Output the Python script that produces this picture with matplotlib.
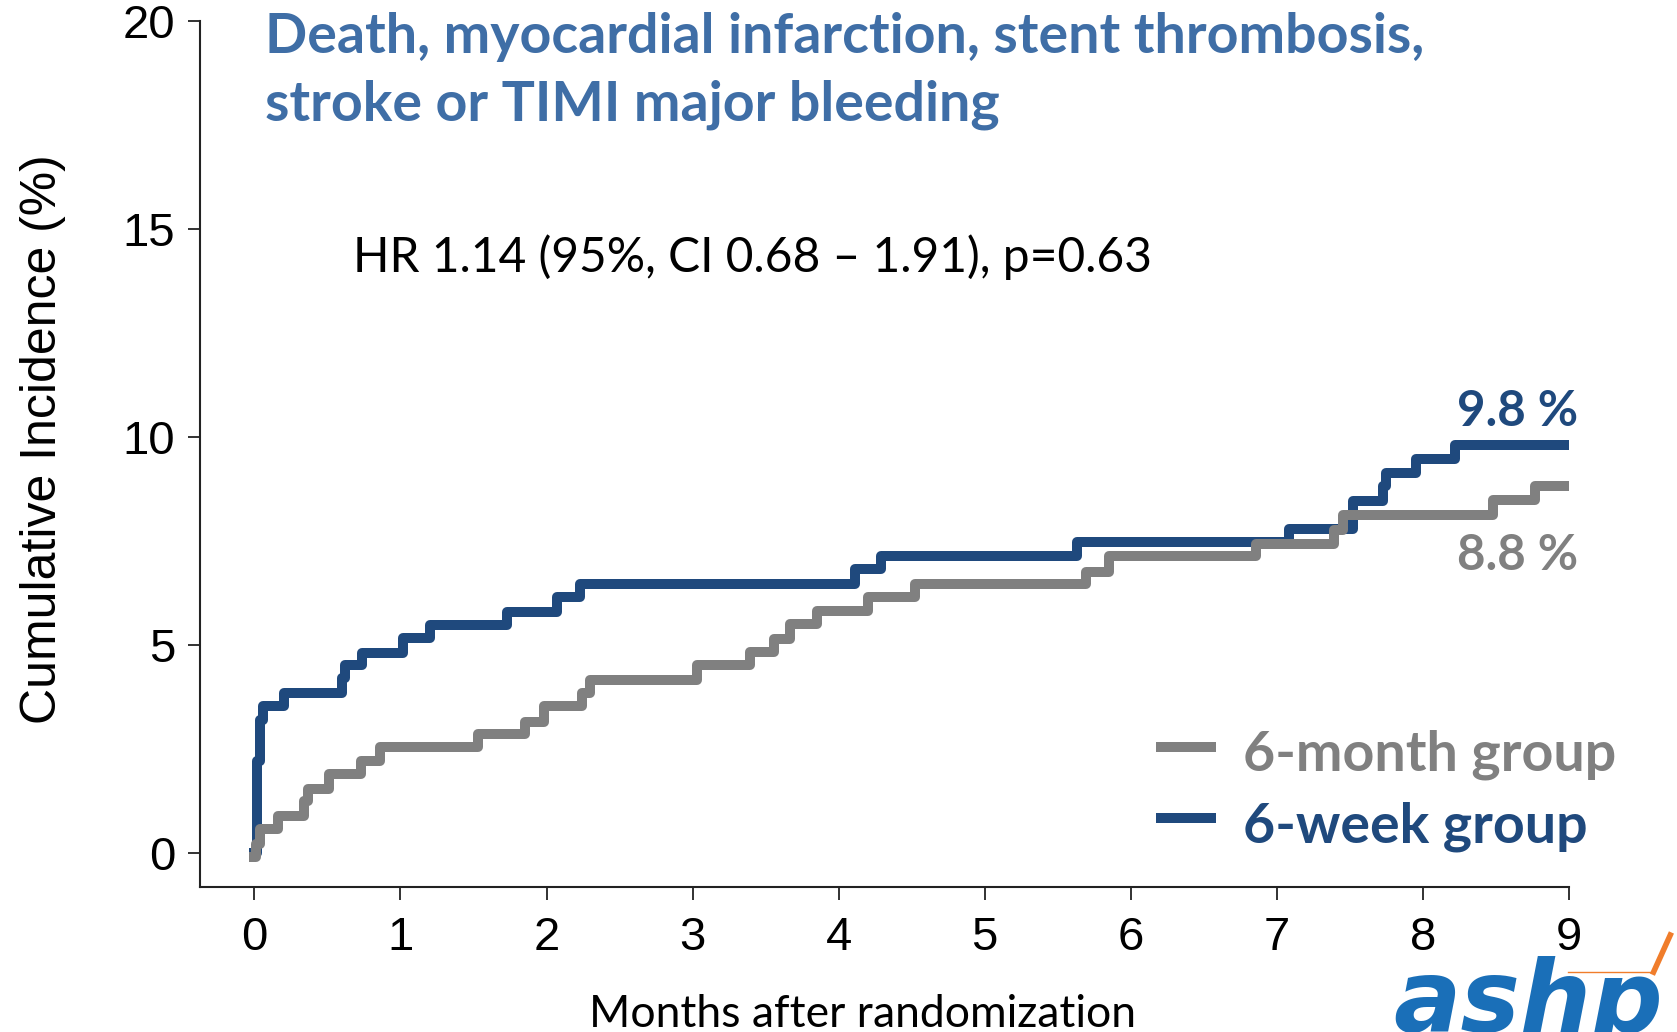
import matplotlib.pyplot as plt
from matplotlib import font_manager

# cumulative incidence (%), step after each time (months)
week_t = [0, 0.02, 0.04, 0.06, 0.20, 0.60, 0.62, 0.74, 1.02, 1.20, 1.73, 2.07, 2.23,
          4.11, 4.29, 5.63, 7.08, 7.52, 7.73, 7.75, 7.95, 8.22, 9.0]
week_y = [0, 2.2, 3.2, 3.52, 3.85, 4.19, 4.51, 4.81, 5.17, 5.48, 5.78, 6.16, 6.46,
          6.82, 7.13, 7.48, 7.79, 8.45, 8.82, 9.14, 9.48, 9.80, 9.80]

month_t = [0, 0.01, 0.04, 0.16, 0.34, 0.37, 0.51, 0.73, 0.86, 1.53, 1.85, 1.98, 2.24,
           2.30, 3.03, 3.39, 3.56, 3.67, 3.85, 4.20, 4.52, 5.69, 5.85, 6.86, 7.39,
           7.45, 8.48, 8.77, 9.0]
month_y = [-0.1, 0.21, 0.56, 0.89, 1.25, 1.53, 1.89, 2.21, 2.54, 2.86, 3.14, 3.52, 3.83,
           4.15, 4.51, 4.83, 5.13, 5.49, 5.80, 6.16, 6.46, 6.74, 7.13, 7.42, 7.77,
           8.11, 8.48, 8.82, 8.82]

x_ticks = list(range(0, 10))
y_ticks = [0, 5, 10, 15, 20]

navy = '#1F497D'
grey = '#808080'
title_blue = '#3F6EA6'

fig = plt.figure(figsize=(16.77, 10.32), dpi=100)
ax = fig.add_axes([0.1193, 0.1409, 0.8163, 0.8384])

ax.step(week_t, week_y, where='post', color=navy, lw=7.2, zorder=2)
ax.step(month_t, month_y, where='post', color=grey, lw=7.2, zorder=3)

ax.set_xlim(-0.372, 9)
ax.set_ylim(-0.82, 20)
ax.set_xticks(x_ticks)
ax.set_yticks(y_ticks)
for s in ['top', 'right']:
    ax.spines[s].set_visible(False)
for s in ['left', 'bottom']:
    ax.spines[s].set_linewidth(1.5)
    ax.spines[s].set_color('#222222')
ax.tick_params(length=9, width=1.3, color='#222222', labelsize=34)
ax.tick_params(axis='x', pad=12)
ax.tick_params(axis='y', pad=9)
for lab in ax.get_xticklabels() + ax.get_yticklabels():
    lab.set_family('Liberation Sans')

# y label in a narrow face if there is one
names = {f.name for f in font_manager.fontManager.ttflist}
if 'Liberation Sans Narrow' in names:
    ax.set_ylabel('Cumulative Incidence (%)', fontsize=44, family='Liberation Sans Narrow')
else:
    ax.set_ylabel('Cumulative Incidence (%)', fontsize=36, family='Liberation Sans')
ax.yaxis.set_label_coords(-0.098, 0.517)

ax.text(0.07, 19.23, 'Death, myocardial infarction, stent thrombosis,',
        fontsize=40, fontweight='bold', color=title_blue, family='Lato', va='baseline')
ax.text(0.07, 17.62, 'stroke or TIMI major bleeding',
        fontsize=40, fontweight='bold', color=title_blue, family='Lato', va='baseline')
ax.text(0.672, 13.98, 'HR 1.14 (95%, CI 0.68 \u2013 1.91), p=0.63',
        fontsize=34.5, color='black', family='Lato', va='baseline')

ax.text(9.065, 10.27, '9.8 %', fontsize=35.5, fontweight='bold', color=navy,
        family='Lato', ha='right', va='baseline')
ax.text(9.065, 6.80, '8.8 %', fontsize=35.5, fontweight='bold', color=grey,
        family='Lato', ha='right', va='baseline')

# legend drawn by hand
ax.plot([6.17, 6.58], [2.55, 2.55], color=grey, lw=7.2, solid_capstyle='butt')
ax.plot([6.17, 6.58], [0.83, 0.83], color=navy, lw=7.2, solid_capstyle='butt')
ax.text(6.77, 1.98, '6-month group', fontsize=40, fontweight='bold', color=grey,
        family='Lato', va='baseline')
ax.text(6.77, 0.23, '6-week group', fontsize=40, fontweight='bold', color=navy,
        family='Lato', va='baseline')

fig.text(0.5146, 0.005, 'Months after randomization', fontsize=32, family='Lato',
         ha='center', va='baseline')

# ashp logo, at the lower edge
fig.text(0.831, 0.0, 'ashp', fontsize=72, fontweight='bold', style='italic',
         color='#1A6FB8', family='DejaVu Sans', va='baseline')
fig.add_artist(plt.Line2D([0.935, 0.984], [0.058, 0.058], color='#F07D2B', lw=1))
fig.add_artist(plt.Line2D([0.986, 0.996], [0.058, 0.094], color='#F07D2B', lw=4))

fig.savefig('out.png', dpi=100)
